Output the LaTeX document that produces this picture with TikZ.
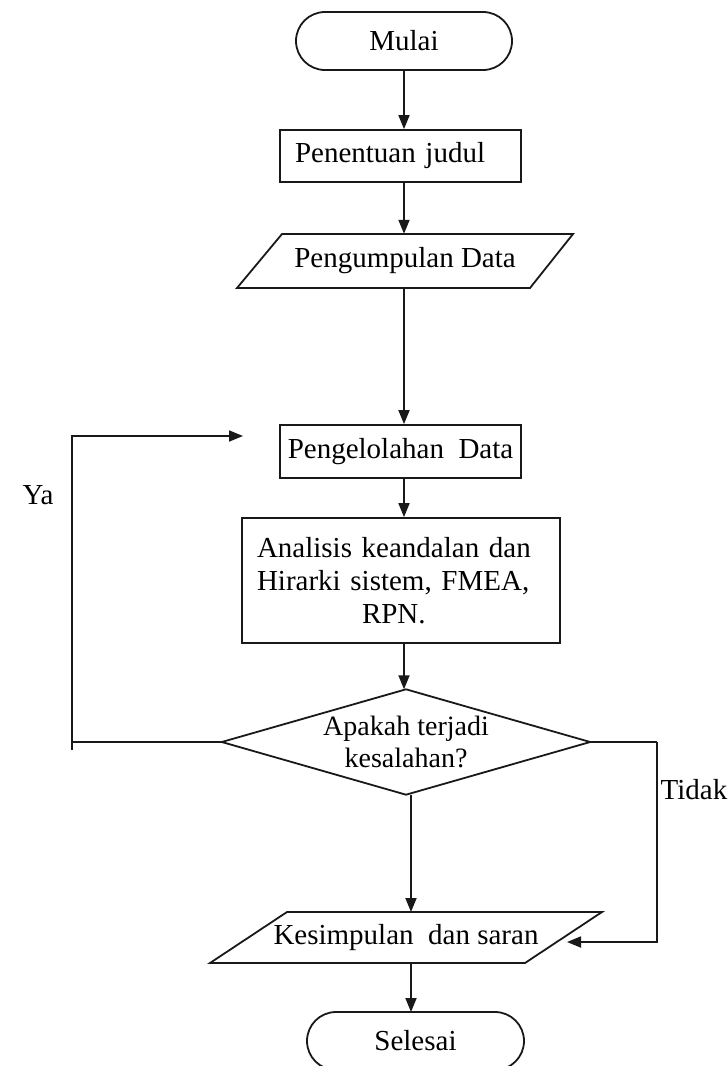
\documentclass[tikz,border=0pt]{standalone}
\usepackage{fontspec}
\setmainfont{Liberation Serif}
\usetikzlibrary{arrows.meta}
\begin{document}
\begin{tikzpicture}[x=1pt,y=-1pt,
  every node/.style={font=\fontsize{29}{33}\selectfont, inner sep=0pt},
  lw/.style={line width=1.8pt, draw=black!90},
  conn/.style={lw, -{Triangle[length=14pt,width=11pt]}},
  plain/.style={lw},
  termbox/.style={lw, rectangle, rounded corners=29pt, minimum width=216pt, minimum height=58pt},
  procbox/.style={lw, rectangle, minimum height=52pt, inner xsep=15pt, align=left},
  ghost/.style={rectangle, draw=none, inner sep=0pt}
]
\useasboundingbox (0,0) rectangle (728,1066);

% nodes
\node[termbox] (mulai) at (404,41) {Mulai};
\node[procbox, text width=211pt, minimum height=52pt] (judul) at (400.5,156) {Penentuan judul};
\node[ghost, minimum width=250pt, minimum height=54pt] (kumpul) at (405,261) {Pengumpulan Data};
\draw[lw] (282,234) -- (573,234) -- (530,288) -- (237,288) -- cycle;
\node[lw, rectangle, inner xsep=0pt, minimum width=241pt, minimum height=53pt] (olah) at (400.5,451.5) {Pengelolahan\ \ Data};
\node[procbox, text width=288pt, minimum height=125pt] (anal) at (401,580.5)
  {Analisis keandalan dan\\Hirarki sistem, FMEA,\\\hspace*{105pt}RPN.};
\node[ghost, minimum width=368pt, minimum height=105pt, align=center, font=\fontsize{28}{32}\selectfont] (dec) at (406,742) {Apakah terjadi\\kesalahan?};
\draw[lw] (dec.west) -- (dec.north) -- (dec.east) -- (dec.south) -- cycle;
\node[ghost, minimum width=290pt, minimum height=51pt] (simp) at (406,937.5) {\raisebox{5pt}{Kesimpulan \ dan saran}};
\draw[lw] (287,912) -- (602,912) -- (525,963) -- (210,963) -- cycle;
\node[termbox, minimum width=217pt] (selesai) at (415.5,1041) {Selesai};

% labels
\node (ya) at (38,495) {Ya};
\node (tidak) at (694,790) {Tidak};

% helper coordinates
\coordinate (yaC) at (72,742);
\coordinate (yaB) at (72,750);
\coordinate (yaT) at (72,436);
\coordinate (yaE) at (243,436);
\coordinate (tdC) at (657,742);
\coordinate (tdB) at (657,942);
\coordinate (tdE) at (567,942);
\coordinate (dBot) at (411,795);
\coordinate (sBot) at (411,963);
\coordinate (sTop) at (411,912);
\coordinate (eTop) at (411,1012);

% connectors
\draw[conn] (mulai.south) -- (mulai.south |- judul.north);
\draw[conn] (judul.south -| mulai.south) -- (mulai.south |- kumpul.north);
\draw[conn] (kumpul.south -| mulai.south) -- (mulai.south |- olah.north);
\draw[conn] (olah.south -| mulai.south) -- (mulai.south |- anal.north);
\draw[conn] (anal.south -| mulai.south) -- (mulai.south |- dec.north);
\draw[conn] (dBot) -- (sTop);
\draw[conn] (sBot) -- (eTop);
\draw[plain] (dec.west) -- (yaC);
\draw[conn] (yaB) -- (yaT) -- (yaE);
\draw[plain] (dec.east) -- (tdC);
\draw[conn] (tdC) -- (tdB) -- (tdE);
\end{tikzpicture}
\end{document}
